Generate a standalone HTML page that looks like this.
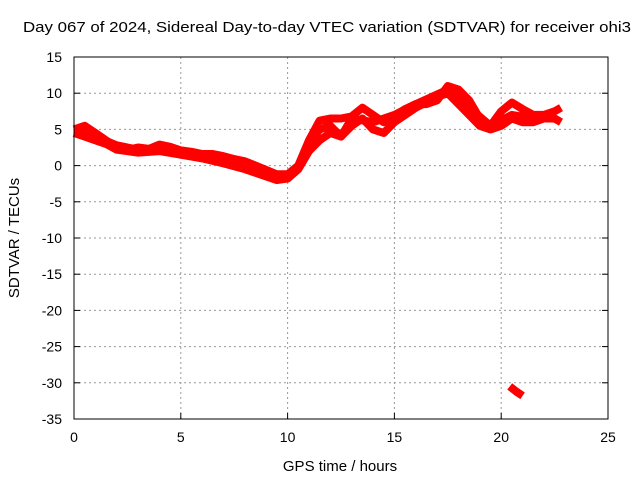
<!DOCTYPE html>
<html><head><meta charset="utf-8"><style>
body{margin:0;background:#fff;}
svg{display:block;font-family:"Liberation Sans",sans-serif;}
</style></head><body>
<svg id="chart" width="640" height="480" viewBox="0 0 640 480">
<rect width="640" height="480" fill="#fff"/>
<text x="327" y="32" font-size="15" text-anchor="middle" textLength="608" lengthAdjust="spacingAndGlyphs">Day 067 of 2024, Sidereal Day-to-day VTEC variation (SDTVAR) for receiver ohi3</text>
<text x="340" y="471" font-size="15" text-anchor="middle">GPS time / hours</text>
<text transform="translate(19,238) rotate(-90)" font-size="15" text-anchor="middle">SDTVAR / TECUs</text>
<g id="grid"></g>
<g id="series"></g>
<rect x="74" y="57" width="534" height="362" fill="none" stroke="#000" stroke-width="1"/>
</svg>
<script>
const xTicks=[0,5,10,15,20,25];
const yTicks=[15,10,5,0,-5,-10,-15,-20,-25,-30,-35];
const trackAHours=[0,0.5,1,1.5,2,2.5,3,3.5,4,4.5,5,5.5,6,6.5,7,7.5,8,8.5,9,9.5,10,10.5,11,11.5,12,12.5,13,13.5,14,14.5,15,15.5,16,16.5,17,17.5,18,18.5,19,19.5,20,20.5,21,21.5,22,22.5,22.8];
const trackAValues=[5,5.5,4.5,3.5,2.5,2.2,2.5,2.3,2.9,2.6,2.1,1.9,1.6,1.6,1.3,0.9,0.6,0,-0.6,-1.2,-1.2,0,3.5,6.2,6.5,6.5,6.8,8,7,6,6.8,7.8,8.5,8.5,9,11,10.5,9,6.5,5.5,7.5,8.7,7.8,7,7,7.5,8];
const trackBHours=[0,0.5,1,1.5,2,3,4,5,6,7,8,8.5,9,9.5,10,10.5,11,11.5,12,12.5,13,13.5,14,14.5,15,15.5,16,17,17.5,18,18.5,19,19.5,20,20.5,21,21.5,22,22.5,22.8];
const trackBValues=[4.5,4,3.5,3,2.2,1.8,2,1.5,1,0.3,-0.5,-1,-1.5,-2,-1.8,-0.5,2,3.5,4.5,4,5.5,6.5,5,4.5,6,7,8,9.5,10,8.5,7,5.5,5,5.5,6.5,6,6,6.5,6.5,6];
const trackMHours=[0,0.5,1,2,3,4,5,6,7,8,9,9.5,10,10.5,11,11.5,12,12.5,13,14,15,16,17.5,18.5,19.5,20.5,21.5,22.5];
const trackMValues=[5,4.8,4,2.8,2.2,2.4,1.8,1.3,0.8,0,-1,-1.5,-1.5,-0.2,3,5,5.5,4,6.5,6,7,8.5,10.5,8,5.5,7,6.5,6.8];
const trackCHours=[20.4,20.7,21];
const trackCValues=[-30.5,-31.2,-31.8];
const X=v=>74+v*534/25, Y=v=>165.6-v*7.24;
const ns="http://www.w3.org/2000/svg";
const grid=document.getElementById('grid'), ser=document.getElementById('series');
function mk(tag,attrs,parent){const e=document.createElementNS(ns,tag);for(const k in attrs)e.setAttribute(k,attrs[k]);parent.appendChild(e);return e;}
xTicks.forEach(t=>{
 if(t>0&&t<25){const l=mk('line',{x1:X(t),x2:X(t),y1:57,y2:419,stroke:'#999','stroke-dasharray':'2,3'},grid);
 
 }
 const tk=mk('line',{x1:X(t),x2:X(t),y1:419,y2:413,stroke:'#000'},grid);
 
 
 const tx=mk('text',{x:X(t),y:442,'font-size':14,'text-anchor':'middle'},grid);tx.textContent=t;
 
 
});
yTicks.forEach(t=>{
 if(t<15&&t>-35){const l=mk('line',{x1:74,x2:608,y1:Y(t),y2:Y(t),stroke:'#999','stroke-dasharray':'2,3'},grid);
 
 }
 const tk=mk('line',{x1:74,x2:80,y1:Y(t),y2:Y(t),stroke:'#000'},grid);
 
 
 const tk2=mk('line',{x1:602,x2:608,y1:Y(t),y2:Y(t),stroke:'#000'},grid);
 
 
 const tx=mk('text',{x:62,y:Y(t)+5,'font-size':14,'text-anchor':'end'},grid);tx.textContent=t;
 
 
});
[[trackAHours,trackAValues,'track-a'],[trackBHours,trackBValues,'track-b'],[trackMHours,trackMValues,'track-m'],[trackCHours,trackCValues,'track-c']].forEach(([h,v,n])=>{
 const pts=h.map((x,i)=>X(x).toFixed(1)+','+Y(v[i]).toFixed(1)).join(' ');
 const p=mk('polyline',{points:pts,fill:'none',stroke:'#f00','stroke-width':8,'stroke-linejoin':'round','stroke-linecap':'butt'},ser);
 
 
});
</script>
</body></html>
